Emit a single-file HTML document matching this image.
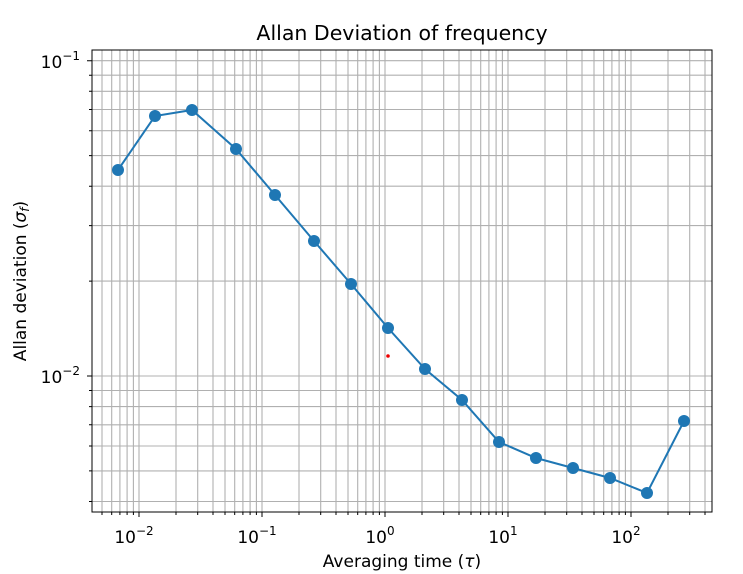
<!DOCTYPE html>
<html><head><style>body{margin:0;background:#fff}svg{display:block}text{font-family:"DejaVu Sans","Liberation Sans",sans-serif;fill:#000}</style></head>
<body>
<svg width="743" height="574" viewBox="0 0 743 574" xmlns="http://www.w3.org/2000/svg">
<rect width="743" height="574" fill="#fff"/>
<g stroke="#b0b0b0" stroke-width="1.1">
<path d="M102,50V512M111.7,50V512M119.9,50V512M127.1,50V512M133.4,50V512M139,50V512M176,50V512M197.7,50V512M213,50V512M225,50V512M234.7,50V512M242.9,50V512M250.1,50V512M256.4,50V512M262,50V512M299,50V512M320.7,50V512M336,50V512M348,50V512M357.7,50V512M365.9,50V512M373.1,50V512M379.4,50V512M385,50V512M422,50V512M443.7,50V512M459,50V512M471,50V512M480.7,50V512M488.9,50V512M496.1,50V512M502.4,50V512M508,50V512M545,50V512M566.7,50V512M582,50V512M594,50V512M603.7,50V512M611.9,50V512M619.1,50V512M625.4,50V512M631,50V512M668,50V512M689.7,50V512M705,50V512"/>
<path d="M92,501.5H712M92,470.9H712M92,446H712M92,424.8H712M92,406.6H712M92,390.5H712M92,376H712M92,281.1H712M92,225.6H712M92,186.2H712M92,155.6H712M92,130.7H712M92,109.5H712M92,91.3H712M92,75.2H712M92,60.7H712"/>
</g>
<g stroke="#000" stroke-width="1">
<path d="M139,512v5M262,512v5M385,512v5M508,512v5M631,512v5M92,376h-5M92,60.7h-5"/>
<path d="M102,512v3M111.7,512v3M119.9,512v3M127.1,512v3M133.4,512v3M176,512v3M197.7,512v3M213,512v3M225,512v3M234.7,512v3M242.9,512v3M250.1,512v3M256.4,512v3M299,512v3M320.7,512v3M336,512v3M348,512v3M357.7,512v3M365.9,512v3M373.1,512v3M379.4,512v3M422,512v3M443.7,512v3M459,512v3M471,512v3M480.7,512v3M488.9,512v3M496.1,512v3M502.4,512v3M545,512v3M566.7,512v3M582,512v3M594,512v3M603.7,512v3M611.9,512v3M619.1,512v3M625.4,512v3M668,512v3M689.7,512v3M705,512v3"/>
<path d="M92,501.5h-3M92,470.9h-3M92,446h-3M92,424.8h-3M92,406.6h-3M92,390.5h-3M92,281.1h-3M92,225.6h-3M92,186.2h-3M92,155.6h-3M92,130.7h-3M92,109.5h-3M92,91.3h-3M92,75.2h-3"/>
</g>
<rect x="92" y="50" width="620" height="462" fill="none" stroke="#000" stroke-width="1"/>
<polyline fill="none" stroke="#1f77b4" stroke-width="2" points="118,170 155,116 192,110 236,149 275,195 314,241 351,284 388,328 425,369 462,400 499,442 536,458 573,468 610,478 647,493 684,421"/>
<g fill="#1f77b4">
<circle cx="118" cy="170" r="6"/><circle cx="155" cy="116" r="6"/><circle cx="192" cy="110" r="6"/><circle cx="236" cy="149" r="6"/><circle cx="275" cy="195" r="6"/><circle cx="314" cy="241" r="6"/><circle cx="351" cy="284" r="6"/><circle cx="388" cy="328" r="6"/><circle cx="425" cy="369" r="6"/><circle cx="462" cy="400" r="6"/><circle cx="499" cy="442" r="6"/><circle cx="536" cy="458" r="6"/><circle cx="573" cy="468" r="6"/><circle cx="610" cy="478" r="6"/><circle cx="647" cy="493" r="6"/><circle cx="684" cy="421" r="6"/>
</g>
<circle cx="388" cy="356" r="1.8" fill="#e00"/>
<g font-size="17" text-anchor="middle">
<text x="134" y="543">10<tspan font-size="12" dy="-8">−2</tspan></text>
<text x="257" y="543">10<tspan font-size="12" dy="-8">−1</tspan></text>
<text x="380" y="543">10<tspan font-size="12" dy="-8">0</tspan></text>
<text x="503" y="543">10<tspan font-size="12" dy="-8">1</tspan></text>
<text x="626" y="543">10<tspan font-size="12" dy="-8">2</tspan></text>
</g>
<g font-size="17" text-anchor="end">
<text x="80" y="68">10<tspan font-size="12" dy="-8">−1</tspan></text>
<text x="80" y="383">10<tspan font-size="12" dy="-8">−2</tspan></text>
</g>
<text x="402" y="567" font-size="17" text-anchor="middle">Averaging time (<tspan font-style="italic">τ</tspan>)</text>
<text transform="translate(26,281) rotate(-90)" font-size="17" text-anchor="middle">Allan deviation (<tspan font-style="italic">σ</tspan><tspan font-style="italic" font-size="12" dy="3">f</tspan><tspan dy="-3">)</tspan></text>
<text x="402" y="40" font-size="20.5" text-anchor="middle">Allan Deviation of frequency</text>
</svg>
</body></html>
